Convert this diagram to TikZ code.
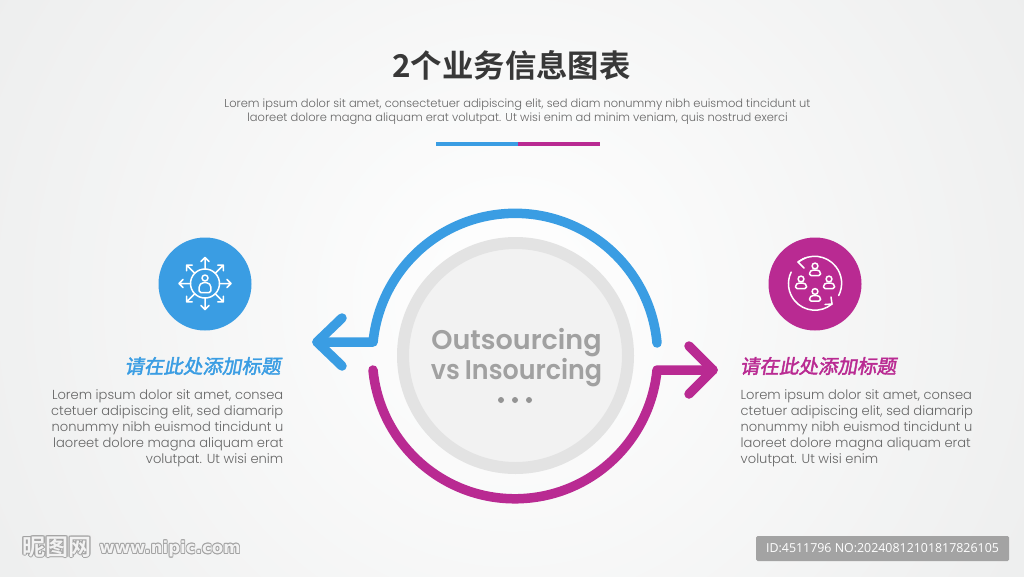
\documentclass[tikz,border=0pt]{standalone}
\usepackage{graphicx}
\usepackage{fontspec}
\setmainfont{Poppins Light}
\newfontfamily\popsemi{Poppins SemiBold}
\newfontfamily\cjk[BoldFont={Noto Sans CJK SC Bold}]{Noto Sans CJK SC}
\newfontfamily\cjkslant[FakeSlant=0.18,FakeBold=2]{Noto Sans CJK SC}
\newfontfamily\idfont{Open Sans}
\newfontfamily\wmfont{DejaVu Sans Bold}
\definecolor{bluea}{HTML}{3A9DE3}
\definecolor{maga}{HTML}{B92A92}
\definecolor{bodyt}{HTML}{666666}
\definecolor{bgmid}{HTML}{FBFBFB}
\definecolor{bgout}{HTML}{ECEDED}
\tikzset{
  flow/.style={line width=9.5pt,line cap=round,line join=round},
  icon/.style={draw=white,line width=1.5pt,line cap=round,line join=round},
  para/.style={inner sep=0pt,text=bodyt,font=\fontsize{13.07}{16}\selectfont},
  head/.style={inner sep=0pt,font=\fontsize{19.5}{24}\cjkslant},
}
\newcommand{\wmtext}[4]{% x y font text
  \foreach \dx/\dy in {-.8/0,.8/0,0/-.8,0/.8,-.6/-.6,.6/-.6,-.6/.6,.6/.6}
    \node[inner sep=0pt,text=black!36,font=#3] at (#1+\dx,#2+\dy) {#4};
  \node[inner sep=0pt,text=white!95!black,font=#3] at (#1,#2) {#4};
}
\newcommand{\person}[3]{% x y scale
  \begin{scope}[shift={(#1,#2)},scale=#3]
    \draw[icon] (0,-4.5) circle[radius=2.9];
    \draw[icon,rounded corners=1.5pt] (-5.5,5) -- (-5.5,1.5) -- (-3,-.5) -- (3,-.5) -- (5.5,1.5) -- (5.5,5) -- cycle;
  \end{scope}
}
\begin{document}
\begin{tikzpicture}[x=1pt,y=-1pt]
\useasboundingbox (0,0) rectangle (1024,576);
\shade[inner color=white,middle color=bgmid,outer color=bgout] (-128,-340) rectangle (1152,940);
\clip (0,0) rectangle (1024,576);

% title
\node[name=title,inner sep=0pt,text=black!78,font=\fontsize{31.4}{36}\cjk\bfseries] at (511.5,65) {2个业务信息图表};
\node[name=sub,inner sep=0pt,align=center,text=bodyt,font=\fontsize{11.45}{14}\selectfont] at (517.5,112) {Lorem ipsum dolor sit amet, consectetuer adipiscing elit, sed diam nonummy nibh euismod tincidunt ut\\laoreet dolore magna aliquam erat volutpat. Ut wisi enim ad minim veniam, quis nostrud exerci};
\coordinate (r0) at (436,144); \coordinate (r1) at (518,144); \coordinate (r2) at (600,144);
\draw[bluea,line width=3.5pt] (r0) -- (r1);
\draw[maga,line width=3.5pt] (r1) -- (r2);

% centre disc
\node[name=disc,circle,draw=black!11,fill=black!5,line width=12pt,minimum size=225pt,inner sep=0pt] at (515.5,355.5) {};
\node[name=ctext,inner sep=0pt,align=center,text=black!37,font=\fontsize{27}{29.5}\popsemi] at (516.5,357.5) {Outsourcing\\\scalebox{.94}[1]{vs\hspace{.2em}Insourcing}};
\foreach \px in {501,515,529} \fill[black!42] (\px,400) circle[radius=3];

% arrows
\coordinate (c) at (515,356);
\coordinate (bs) at (657,343); \coordinate (bc) at (373,342); \coordinate (bt) at (317,342);
\coordinate (bh1) at (342,318); \coordinate (bh2) at (342,366);
\draw[bluea,flow] (bs) arc[start angle=-5.2,end angle=-174.4,radius=142.6] -- (bt);
\draw[bluea,flow] (bh1) -- (bt) -- (bh2);
\coordinate (ms) at (373,370); \coordinate (mc) at (657,370); \coordinate (mt) at (713,370);
\coordinate (mh1) at (689,346); \coordinate (mh2) at (689,394);
\draw[maga,flow] (ms) arc[start angle=174.4,end angle=5.6,radius=142.7] -- (mt);
\draw[maga,flow] (mh1) -- (mt) -- (mh2);

% left icon
\node[name=lc,circle,fill=bluea,minimum size=93pt,inner sep=0pt] at (205,284) {};
\begin{scope}[shift={(205,283.5)}]
  \draw[icon] (0,0) circle[radius=14.5];
  \foreach \a in {0,45,...,315}{
    \begin{scope}[rotate=\a]
      \draw[icon] (14.5,0) -- (26,0) (22,-4) -- (26,0) -- (22,4);
    \end{scope}
  }
  \draw[icon] (0,-5.5) circle[radius=3];
  \draw[icon,rounded corners=1.5pt] (-5.8,9) -- (-5.8,2) -- (-3,-.8) -- (3,-.8) -- (5.8,2) -- (5.8,9) -- cycle;
\end{scope}

% right icon
\node[name=rc,circle,fill=maga,minimum size=93pt,inner sep=0pt] at (815,284) {};
\begin{scope}[shift={(815,284)}]
  \draw[icon] (-17,-22) arc[start angle=-128,end angle=27,radius=27];
  \draw[icon] (-10,-26) -- (-17,-22) -- (-11,-16);
  \draw[icon] (17,20) arc[start angle=50,end angle=206,radius=26.5];
  \draw[icon] (16,13) -- (17,20) -- (10,20.5);
\end{scope}
\person{815}{270.5}{1}
\person{801}{283.5}{1}
\person{829}{283.5}{1}
\person{815}{296}{1}

% headings and paragraphs
\node[name=lh,head,text=bluea] at (202.5,366) {请在此处添加标题};
\node[name=rh,head,text=maga] at (818,366) {请在此处添加标题};
\node[name=lp,para,align=right,anchor=east] at (283.5,428.5) {Lorem ipsum dolor sit amet, consea\\ctetuer adipiscing elit, sed diamarip\\nonummy nibh euismod tincidunt u\\laoreet dolore magna aliquam erat\\volutpat. Ut wisi enim};
\node[name=rp,para,align=left,anchor=west] at (740.5,428.5) {Lorem ipsum dolor sit amet, consea\\ctetuer adipiscing elit, sed diamarip\\nonummy nibh euismod tincidunt u\\laoreet dolore magna aliquam erat\\volutpat. Ut wisi enim};

% watermark and id
\wmtext{57}{547}{\fontsize{23}{24}\cjk\bfseries}{昵图网}
\wmtext{170}{549}{\fontsize{16.6}{20}\wmfont}{www.nipic.com}
\node[name=idbox,fill=black!36,rounded corners=1.5pt,minimum width=253pt,minimum height=25pt,inner sep=0pt,text=white,font=\fontsize{12.4}{14}\idfont] at (882.5,548.5) {ID:4511796 NO:20240812101817826105};
\end{tikzpicture}
\end{document}
